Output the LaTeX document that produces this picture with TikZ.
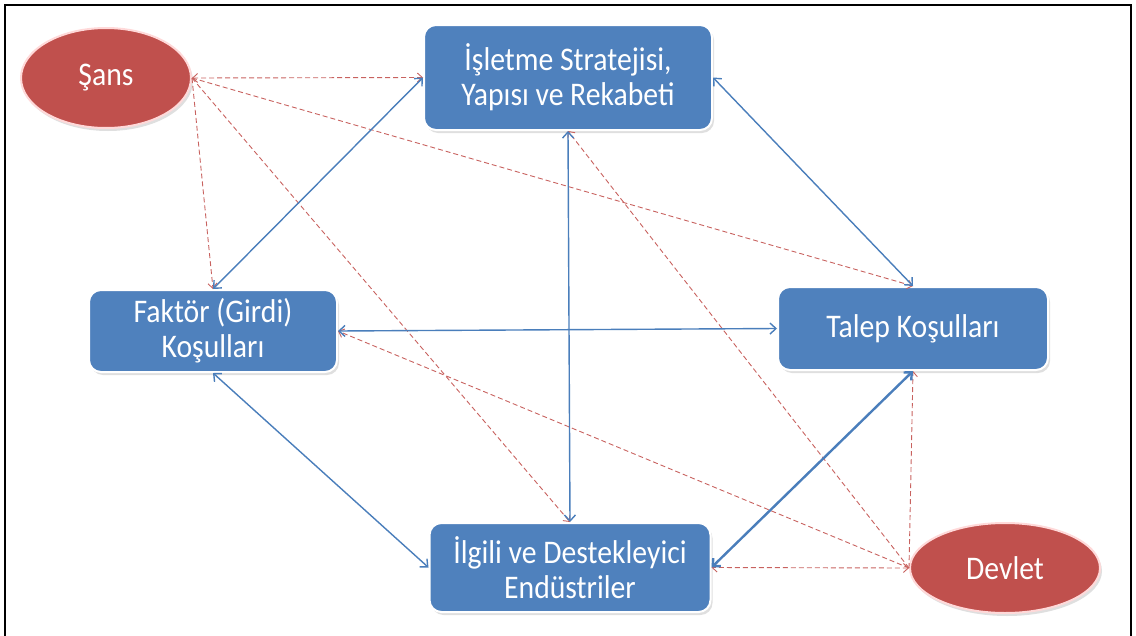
\documentclass[tikz,border=0pt]{standalone}
\usepackage{fontspec}
\setmainfont{Carlito}[FakeStretch=0.9]
\usetikzlibrary{arrows.meta,shapes.geometric,shadows}
\definecolor{boxblue}{HTML}{4F81BD}
\definecolor{ellred}{HTML}{C0504D}
\definecolor{linkblue}{HTML}{4A7EBB}
\definecolor{dashred}{HTML}{C8625F}
\begin{document}
\begin{tikzpicture}[x=1pt,y=-1pt,
  boxnode/.style={rectangle,rounded corners=12pt,fill=boxblue,draw=white,line width=2pt,
    text=white,align=center,font=\fontsize{33}{35}\selectfont,
    drop shadow={opacity=0.25,shadow xshift=2pt,shadow yshift=-3pt}},
  ellnode/.style={ellipse,fill=ellred,draw=white!85!red,line width=2pt,text=white,
    font=\fontsize{33}{35}\selectfont,inner sep=0pt,
    drop shadow={opacity=0.25,shadow xshift=2pt,shadow yshift=-3pt}},
  solidlink/.style={draw=linkblue,line width=1.4pt,{Straight Barb[length=6pt,width=11pt]}-{Straight Barb[length=6pt,width=11pt]}},
  dashlink/.style={draw=dashred,line width=0.9pt,dash pattern=on 5pt off 3pt,-{Straight Barb[length=5pt,width=9pt]}},
  dashboth/.style={dashlink,{Straight Barb[length=5pt,width=9pt]}-{Straight Barb[length=5pt,width=9pt]}}
]
\useasboundingbox (0,0) rectangle (1136,635);
\draw[line width=2pt] (5,636) -- (5,5) -- (1131,5) -- (1131,636);

\node[ellnode,minimum width=170pt,minimum height=100pt] (sans) at (106,78) {Şans};
\node[ellnode,minimum width=190pt,minimum height=90pt] (devlet) at (1005,568) {Devlet};
\node[boxnode,minimum width=288pt,minimum height=105pt] (isl) at (568,77.5) {İşletme Stratejisi,\\Yapısı ve Rekabeti};
\node[boxnode,minimum width=248pt,minimum height=82pt] (fak) at (213,331) {Faktör (Girdi)\\Koşulları};
\node[boxnode,minimum width=270pt,minimum height=83pt] (tal) at (913,328.5) {Talep Koşulları};
\node[boxnode,minimum width=281pt,minimum height=89pt] (ilg) at (570,567.5) {İlgili ve Destekleyici\\Endüstriler};

% dashed red links
\draw[dashboth] (sans.east) -- (isl.west);
\draw[dashlink] (sans.east) -- (fak.north);
\draw[dashlink] (sans.east) -- (ilg.north);
\draw[dashlink] (sans.east) -- (tal.north);
\draw[dashlink] (devlet.west) -- (isl.south);
\draw[dashlink] (devlet.west) -- (fak.east);
\draw[dashboth] (devlet.west) -- (ilg.east);
\draw[dashlink] (devlet.west) -- (tal.south);

% solid blue links
\draw[solidlink] (isl.west) -- (fak.north);
\draw[solidlink] (isl.east) -- (tal.north);
\draw[solidlink] (isl.south) -- (ilg.north);
\draw[solidlink] (fak.east) -- (tal.west);
\draw[solidlink] (fak.south) -- (ilg.west);
\draw[solidlink,line width=2.4pt] (tal.south) -- (ilg.east);
\end{tikzpicture}
\end{document}
